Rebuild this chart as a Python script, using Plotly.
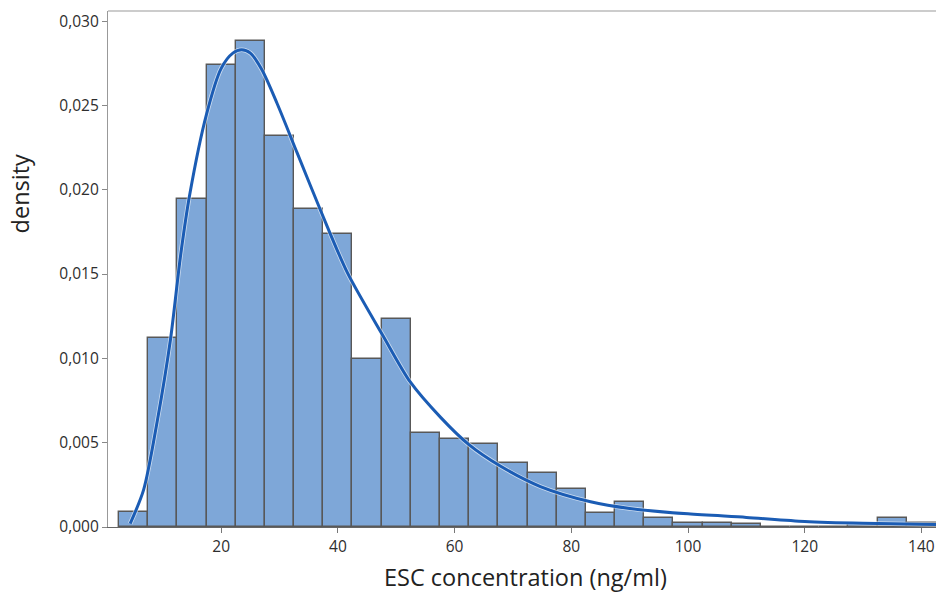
import plotly.graph_objects as go

# Histogram bins (centre of each 5-unit bin) and densities
bin_centers = [5, 10, 15, 20, 25, 30, 35, 40, 45, 50, 55, 60, 65, 70,
               75, 80, 85, 90, 95, 100, 105, 110, 115, 120, 125, 130, 135, 140]
densities = [0.00087, 0.01119, 0.01944, 0.02738, 0.02883, 0.02319, 0.01884,
             0.01736, 0.00995, 0.01232, 0.00556, 0.00520, 0.00492, 0.00378,
             0.00320, 0.00227, 0.00085, 0.00146, 0.00055, 0.00022, 0.00025,
             0.00016, 0.0, 0.0, 0.0, 0.00017, 0.00052, 0.00022]
bin_width = 5

# Fitted density curve
curve_x = [4.4, 6.7, 9.0, 11.3, 13.0, 14.6, 17.5, 20.0, 22.0, 23.5, 25.0, 27.0,
           29.6, 33.0, 37.0, 41.6, 47.8, 52.4, 57.6, 62.4, 67.9, 74.7, 83.3,
           90.0, 100.0, 110.0, 120.0, 130.0, 142.5]
curve_y = [0.0002, 0.0022, 0.0062, 0.0111, 0.0160, 0.0197, 0.0245, 0.0272,
           0.0281, 0.0283, 0.0281, 0.0271, 0.0251, 0.0222, 0.0188, 0.0151,
           0.0113, 0.0086, 0.0065, 0.0049, 0.0036, 0.0024, 0.0015, 0.0011,
           0.00078, 0.00057, 0.00033, 0.00022, 0.00015]

x_ticks = [20, 40, 60, 80, 100, 120, 140]
y_ticks = [0.0, 0.005, 0.010, 0.015, 0.020, 0.025, 0.030]

fig = go.Figure()
fig.add_trace(go.Bar(
    x=bin_centers, y=densities, width=bin_width,
    marker=dict(color="#7ea7d8", line=dict(color="#585858", width=1.4)),
    showlegend=False, hoverinfo="x+y"))
fig.add_trace(go.Scatter(
    x=curve_x, y=curve_y, mode="lines",
    line=dict(color="rgba(255,255,255,0.6)", width=4.6, shape="spline", smoothing=0.8),
    showlegend=False, hoverinfo="skip"))
fig.add_trace(go.Scatter(
    x=curve_x, y=curve_y, mode="lines",
    line=dict(color="#1b5cb4", width=3, shape="spline", smoothing=0.8),
    showlegend=False))

font_family = "Open Sans, Noto Sans, DejaVu Sans, sans-serif"

fig.update_layout(
    width=936, height=606,
    margin=dict(l=108, r=0, t=11, b=79),
    paper_bgcolor="white", plot_bgcolor="white",
    separators=",.",
    bargap=0,
    font=dict(family=font_family, size=15.5, color="#333333"),
    xaxis=dict(
        range=[0.6, 142.5], tickvals=x_ticks, ticks="outside", ticklen=5,
        tickcolor="#777777", showgrid=False, zeroline=False,
        showline=True, linecolor="#666666", linewidth=1.2,
        tickfont=dict(size=15.5, color="#2e2e2e")),
    yaxis=dict(
        range=[0, 0.0306], tickvals=y_ticks, tickformat=".3f", ticks="outside",
        ticklen=5, tickcolor="#888888", showgrid=False, zeroline=False,
        showline=True, linecolor="#999999", linewidth=1.2,
        tickfont=dict(size=15.5, color="#2e2e2e")),
    shapes=[dict(type="line", xref="paper", yref="paper", x0=0, x1=1, y0=1, y1=1,
                 line=dict(color="#999999", width=1.2))],
    annotations=[
        dict(text="density", xref="paper", yref="paper",
             x=-0.106, y=0.645, textangle=-90, showarrow=False,
             xanchor="center", yanchor="middle",
             font=dict(size=23.5, color="#222222")),
        dict(text="ESC concentration (ng/ml)", xref="paper", yref="paper",
             x=0.504, y=-0.097, showarrow=False,
             xanchor="center", yanchor="middle",
             font=dict(size=23.5, color="#222222")),
    ],
)

fig.write_html("out.html")
